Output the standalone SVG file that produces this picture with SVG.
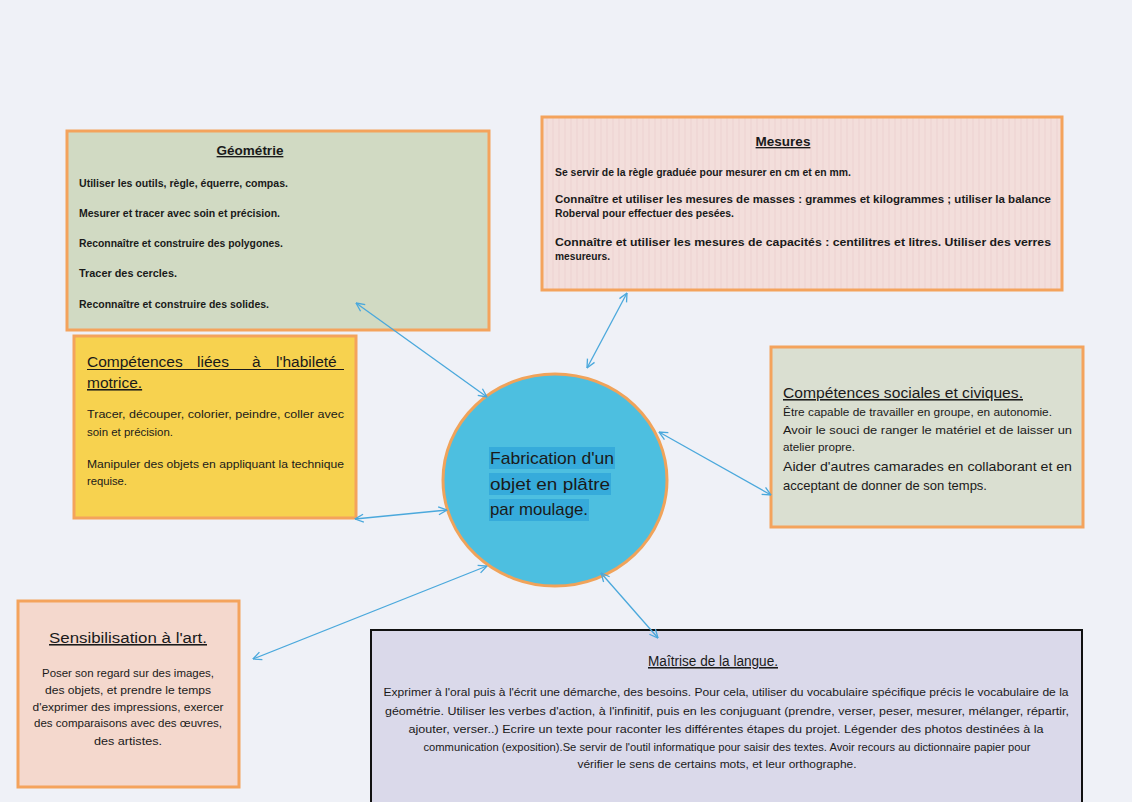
<svg xmlns="http://www.w3.org/2000/svg" width="1132" height="802" viewBox="0 0 1132 802">
<defs>
<style>
.box{stroke:#f4a35c;stroke-width:3}
.t{font-family:"Liberation Sans",Arial,sans-serif;fill:#1a1a1a}
.b{font-weight:bold;font-size:11px}
.r{font-size:11.5px}
.h{font-size:15.5px;text-decoration:underline}
.hb{font-weight:bold;font-size:13.5px;text-decoration:underline}
.c{text-anchor:middle}
.con{stroke:#4aa8dc;stroke-width:1.3;fill:none;marker-start:url(#ah);marker-end:url(#ah)}
</style>
<marker id="ah" viewBox="0 0 10 10" refX="9.5" refY="5" markerWidth="10" markerHeight="10" markerUnits="userSpaceOnUse" orient="auto-start-reverse">
<path d="M1,1 L9.5,5 L1,9" fill="none" stroke="#4aa8dc" stroke-width="1.3"/>
</marker>
<pattern id="stripes" width="6" height="10" patternUnits="userSpaceOnUse">
<rect width="6" height="10" fill="#f3dedb"/>
<rect width="2" height="10" fill="#f0d8d6"/>
</pattern>
</defs>
<rect width="1132" height="802" fill="#eff1f7"/>

<g id="geometrie">
<rect class="box" x="67" y="131" width="422" height="199" fill="#d1dac3"/>
<text class="t hb c" x="250" y="155">Géométrie</text>
<text class="t b" x="79" y="187" textLength="209" lengthAdjust="spacingAndGlyphs">Utiliser les outils, règle, équerre, compas.</text>
<text class="t b" x="79" y="217" textLength="201" lengthAdjust="spacingAndGlyphs">Mesurer et tracer avec soin et précision.</text>
<text class="t b" x="79" y="247" textLength="204" lengthAdjust="spacingAndGlyphs">Reconnaître et construire des polygones.</text>
<text class="t b" x="79" y="277" textLength="98" lengthAdjust="spacingAndGlyphs">Tracer des cercles.</text>
<text class="t b" x="79" y="308" textLength="190" lengthAdjust="spacingAndGlyphs">Reconnaître et construire des solides.</text>
</g>

<g id="mesures">
<rect class="box" x="542" y="117" width="520" height="173" fill="url(#stripes)"/>
<text class="t hb c" x="783" y="146">Mesures</text>
<text class="t b" x="555" y="176" textLength="296" lengthAdjust="spacingAndGlyphs">Se servir de la règle graduée pour mesurer en cm et en mm.</text>
<text class="t b" x="555" y="203" textLength="496" lengthAdjust="spacingAndGlyphs">Connaître et utiliser les mesures de masses : grammes et kilogrammes ; utiliser la balance</text>
<text class="t b" x="555" y="217" textLength="179" lengthAdjust="spacingAndGlyphs">Roberval pour effectuer des pesées.</text>
<text class="t b" x="555" y="246" textLength="496" lengthAdjust="spacingAndGlyphs">Connaître et utiliser les mesures de capacités : centilitres et litres. Utiliser des verres</text>
<text class="t b" x="555" y="260" textLength="55" lengthAdjust="spacingAndGlyphs">mesureurs.</text>
</g>

<g id="habilete">
<rect class="box" x="74" y="336" width="282" height="182" fill="#f7d24f"/>
<text class="t" font-size="15.5"><tspan x="87" y="367">Compétences</tspan><tspan x="197" y="367">liées</tspan><tspan x="252" y="367">à</tspan><tspan x="276" y="367">l'habileté</tspan></text>
<line x1="87" y1="369.5" x2="344" y2="369.5" stroke="#1a1a1a" stroke-width="1"/>
<text class="t h" x="87" y="388">motrice.</text>
<text class="t r" x="87" y="418" textLength="257" lengthAdjust="spacingAndGlyphs">Tracer, découper, colorier, peindre, coller avec</text>
<text class="t r" x="87" y="436" textLength="86" lengthAdjust="spacingAndGlyphs">soin et précision.</text>
<text class="t r" x="87" y="468" textLength="257" lengthAdjust="spacingAndGlyphs">Manipuler des objets en appliquant la technique</text>
<text class="t r" x="87" y="485" textLength="40" lengthAdjust="spacingAndGlyphs">requise.</text>
</g>

<g id="sociales">
<rect class="box" x="771" y="347" width="312" height="180" fill="#dadfd1"/>
<text class="t h" x="783" y="398" textLength="240" lengthAdjust="spacingAndGlyphs">Compétences sociales et civiques.</text>
<text class="t r" x="783" y="416" textLength="269" lengthAdjust="spacingAndGlyphs">Être capable de travailler en groupe, en autonomie.</text>
<text class="t r" x="783" y="434" textLength="289" lengthAdjust="spacingAndGlyphs">Avoir le souci de ranger le matériel et de laisser un</text>
<text class="t r" x="783" y="451" textLength="72" lengthAdjust="spacingAndGlyphs">atelier propre.</text>
<text class="t" font-size="13.5" x="783" y="471" textLength="289" lengthAdjust="spacingAndGlyphs">Aider d'autres camarades en collaborant et en</text>
<text class="t" font-size="13.5" x="783" y="490" textLength="204" lengthAdjust="spacingAndGlyphs">acceptant de donner de son temps.</text>
</g>

<g id="art">
<rect class="box" x="18" y="601" width="221" height="186" fill="#f4d8cd"/>
<text class="t h c" x="128" y="643" textLength="158" lengthAdjust="spacingAndGlyphs">Sensibilisation à l'art.</text>
<text class="t r c" x="128" y="677" textLength="172" lengthAdjust="spacingAndGlyphs">Poser son regard sur des images,</text>
<text class="t r c" x="128" y="694" textLength="166" lengthAdjust="spacingAndGlyphs">des objets, et prendre le temps</text>
<text class="t r c" x="128" y="711" textLength="191" lengthAdjust="spacingAndGlyphs">d'exprimer des impressions, exercer</text>
<text class="t r c" x="128" y="727" textLength="188" lengthAdjust="spacingAndGlyphs">des comparaisons avec des œuvres,</text>
<text class="t r c" x="128" y="745" textLength="68" lengthAdjust="spacingAndGlyphs">des artistes.</text>
</g>

<g id="langue">
<rect x="371" y="630" width="711" height="180" fill="#dad9ea" stroke="#111" stroke-width="2"/>
<text class="t h c" x="713" y="666" textLength="130" lengthAdjust="spacingAndGlyphs">Maîtrise de la langue.</text>
<text class="t r c" x="726" y="696" textLength="685" lengthAdjust="spacingAndGlyphs">Exprimer à l'oral puis à l'écrit une démarche, des besoins. Pour cela, utiliser du vocabulaire spécifique précis le vocabulaire de la</text>
<text class="t r c" x="727" y="715" textLength="684" lengthAdjust="spacingAndGlyphs">géométrie. Utiliser les verbes d'action, à l'infinitif, puis en les conjuguant (prendre, verser, peser, mesurer, mélanger, répartir,</text>
<text class="t r c" x="726" y="733" textLength="635" lengthAdjust="spacingAndGlyphs">ajouter, verser..)  Ecrire un texte pour raconter les différentes étapes du projet. Légender des photos destinées à la</text>
<text class="t r c" x="727" y="751" textLength="607" lengthAdjust="spacingAndGlyphs">communication (exposition).Se servir de l'outil informatique pour saisir des textes. Avoir recours au dictionnaire papier pour</text>
<text class="t r c" x="717" y="768" textLength="279" lengthAdjust="spacingAndGlyphs">vérifier le sens de certains mots, et leur orthographe.</text>
</g>

<g id="centre">
<ellipse cx="555" cy="480" rx="112" ry="106" fill="#4dbfe0" stroke="#f0a35a" stroke-width="3"/>
<rect x="489" y="447" width="126" height="22" fill="#36abdb"/>
<rect x="489" y="473" width="122" height="22" fill="#36abdb"/>
<rect x="489" y="499" width="100" height="22" fill="#36abdb"/>
<text class="t" font-size="17" x="490" y="464" textLength="124" lengthAdjust="spacingAndGlyphs">Fabrication d'un</text>
<text class="t" font-size="17" x="490" y="490" textLength="120" lengthAdjust="spacingAndGlyphs">objet en plâtre</text>
<text class="t" font-size="17" x="490" y="515" textLength="98" lengthAdjust="spacingAndGlyphs">par moulage.</text>
</g>

<g id="connectors">
<line class="con" x1="356" y1="303" x2="487" y2="397"/>
<line class="con" x1="627" y1="293" x2="587" y2="368"/>
<line class="con" x1="355" y1="519" x2="447" y2="510"/>
<line class="con" x1="659" y1="432" x2="771" y2="495"/>
<line class="con" x1="253" y1="659" x2="487" y2="566"/>
<line class="con" x1="601" y1="573" x2="658" y2="638"/>
</g>
</svg>
